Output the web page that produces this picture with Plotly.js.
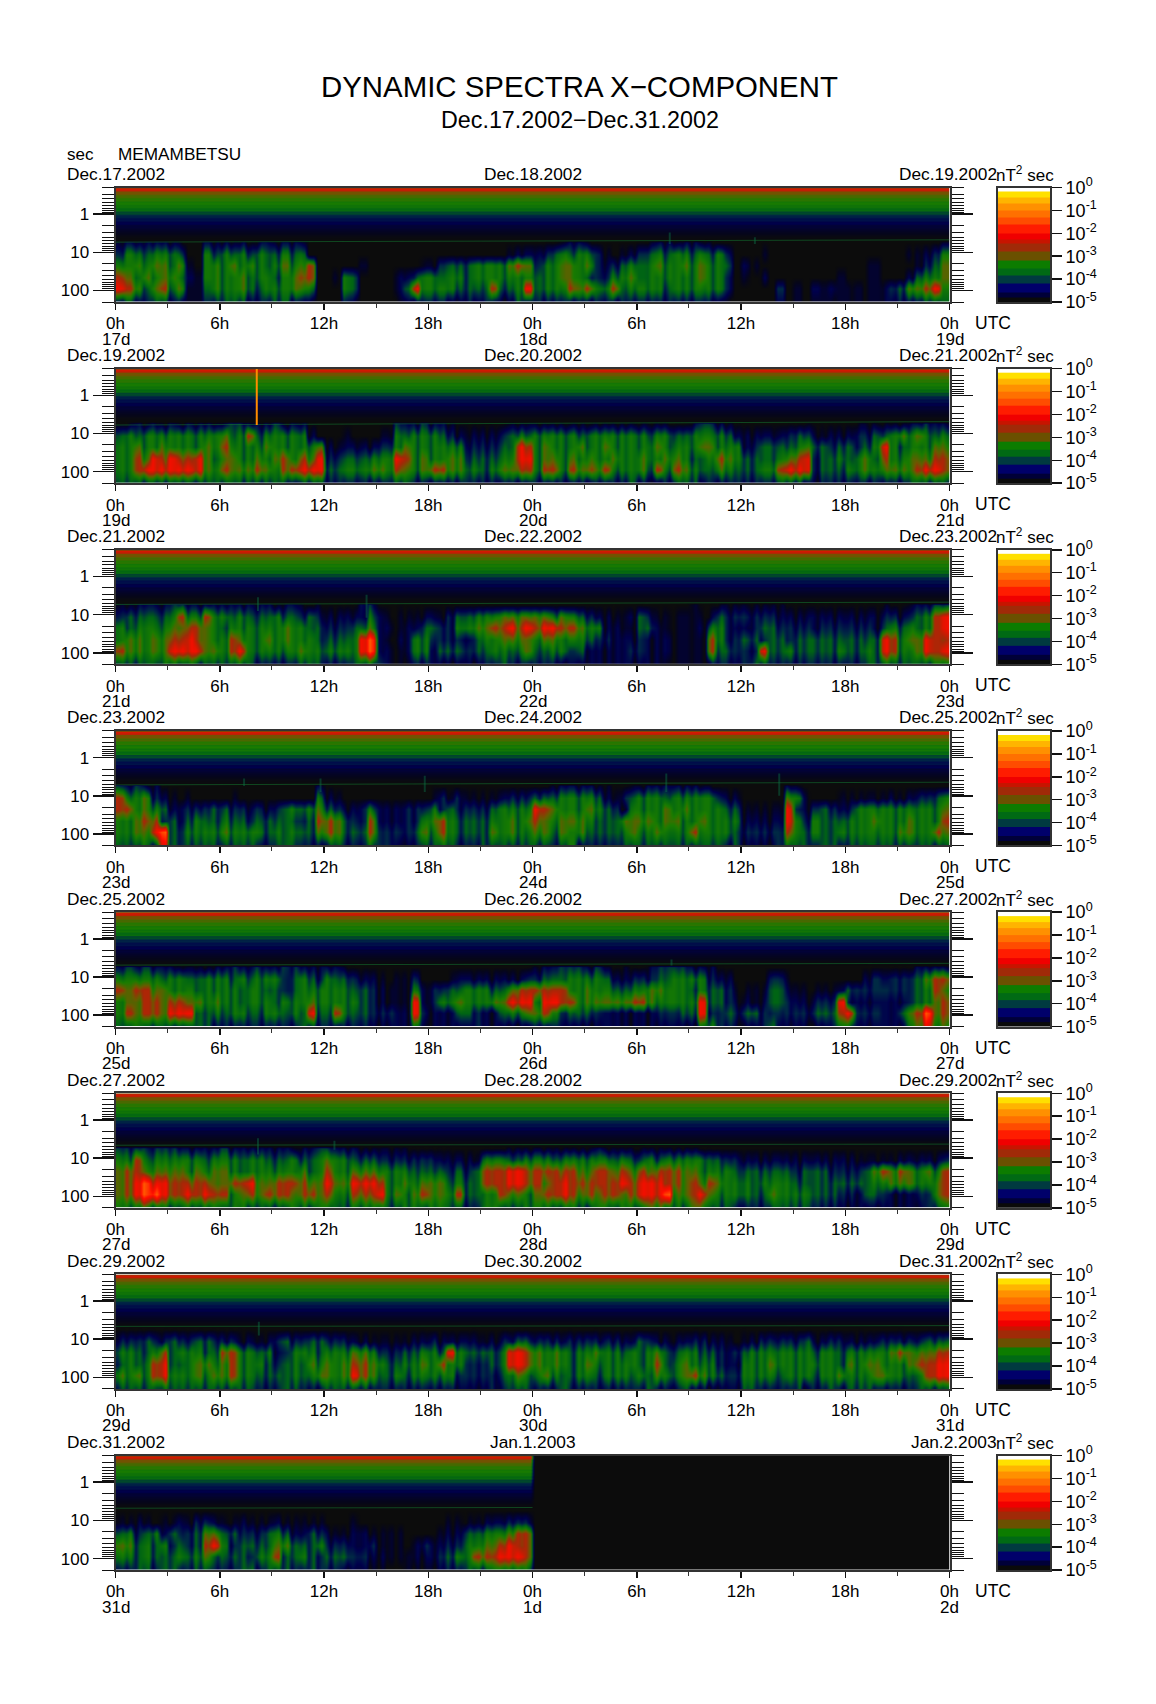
<!DOCTYPE html>
<html><head><meta charset="utf-8">
<script src="https://cdn.plot.ly/plotly-3.0.1.min.js"></script>
<style>html,body{margin:0;padding:0;background:#fff}</style></head>
<body><div id="chart" style="width:1156px;height:1704px"></div>
<script>
// ---------- values ----------
const startDates = ["Dec.17.2002","Dec.19.2002","Dec.21.2002","Dec.23.2002","Dec.25.2002","Dec.27.2002","Dec.29.2002","Dec.31.2002"];
const midDates   = ["Dec.18.2002","Dec.20.2002","Dec.22.2002","Dec.24.2002","Dec.26.2002","Dec.28.2002","Dec.30.2002","Jan.1.2003"];
const endDates   = ["Dec.19.2002","Dec.21.2002","Dec.23.2002","Dec.25.2002","Dec.27.2002","Dec.29.2002","Dec.31.2002","Jan.2.2003"];
const dayLabels  = [["17d","18d","19d"],["19d","20d","21d"],["21d","22d","23d"],["23d","24d","25d"],["25d","26d","27d"],["27d","28d","29d"],["29d","30d","31d"],["31d","1d","2d"]];
const hourTicks  = [0,6,12,18,24,30,36,42,48];
const hourLabels = ["0h","6h","12h","18h","0h","6h","12h","18h","0h"];
const hourMinor  = [3,9,15,21,27,33,39,45];
const periodTicks = [1,10,100];
const periodLabels = ["1","10","100"];
const periodMinor = [0.2,0.3,0.4,0.5,0.6,0.7,0.8,0.9,2,3,4,5,6,7,8,9,20,30,40,50,60,70,80,90,200];

// quiet upper part of every panel: period (s) and log10 power
const bgPeriod = [0.2,0.215,0.234,0.26,0.287,0.318,0.352,0.39,0.43,0.476,0.526,0.582,0.644,0.712,0.787,0.87,0.964,1.07,1.18,1.31,1.44,1.6,1.77,1.96,2.16,2.65,3.24,3.96,4.85];
const bgPower  = [-2.85,-2.35,-2.55,-2.95,-2.95,-3.2,-3.15,-3.35,-3.3,-3.5,-3.4,-3.6,-3.5,-3.75,-3.65,-4.0,-3.95,-4.25,-4.2,-4.4,-4.35,-4.55,-4.5,-4.7,-4.65,-4.8,-4.88,-4.95,-5];

// activity rows: period (s) of each string row, one digit per 30 minutes, digit = colour level
const rowPeriod = [5.6,11.2,22.4,44.7,89,178];
const levelPower = [-5,-4.72,-4.45,-4.15,-3.8,-3.5,-3.1,-2.62,-2.12,-1.4];
const topRowDrop = 0.25;
// dark streak strength per 15 minutes in each panel, digit x streakStep is removed from the power
const streakStep = 0.17;

const panel1 = [
"23333332 00333232 33233300 00000000 00000000 00000000 01123321 00001233 23322100 00100000 00000000 00000012",
"35545554 10545454 54454500 00000000 00000000 00000122 23454553 10123454 55454530 00100000 00000000 00011235",
"55656656 21565656 54565670 00001000 00011344 45555676 35566563 23454565 56565540 21000000 00000011 00001346",
"76565665 32565565 55456770 01540000 22455455 45555555 45566543 35564555 55565530 10200000 00010011 00024556",
"87646756 22465565 45556650 00540000 24855554 44474458 45557675 57455554 55555530 00003010 21211111 23466785",
"34334433 22344443 33443320 00320000 12333322 32332243 33333333 33333333 33333210 00002010 11111111 22333444"];
const panel2 = [
"12323232 33323443 33423310 00000000 43343321 11111222 22222222 22222222 11344321 00000112 11111222 22233433",
"45455555 55556457 45555520 00100011 54555432 12223454 55555455 55555455 44555542 22222344 21222334 45656545",
"55655655 55657555 56555556 21222233 56555555 23334487 56555655 65555565 55566555 23444456 44344345 85455566",
"55768787 78646655 65675768 33444555 87565566 34445588 56656565 56556556 65445765 44445678 34454564 75566677",
"55788888 88657666 76577888 44555665 76567766 45456677 57757676 75556475 76544654 44557888 34445565 66667887",
"44444444 44444444 44443444 33333333 44333333 33333333 33333333 33343223 44423333 33334443 23333333 33344444"];
const panel3 = [
"22333344 33333333 33233212 11113410 10000000 00000000 00000000 00001000 00211222 22222111 11111111 21123344",
"34444457 55755454 44544343 22222521 11122134 45556666 66565432 21124311 11112433 33332222 22222222 33234578",
"54555566 77654555 55565544 33344622 12244335 56677878 78877655 22114421 11125532 23443333 23333332 45454578",
"56656677 87655765 56565554 44458921 22553333 24556666 56655543 32223222 11117533 44344344 44444444 87566877",
"76656688 88665785 55555655 55558922 12552444 34455456 44553422 22233222 11117443 33844544 44454454 87556878",
"44444554 54444454 33333444 33344532 11332222 22334333 33322222 22222221 11113332 34433333 33333344 54444455"];
const panel4 = [
"43433100 00000000 00000003 10000000 00001000 00000000 00233332 21122333 33322110 00000320 00000000 00000000",
"75563210 10000100 00000005 21000000 00001313 11112333 44455554 21345554 55555322 00000652 00011111 12123345",
"77565422 33344332 32345456 43223522 23335343 33345555 87655565 43155556 56555544 11111832 34323555 55555556",
"55677342 45445443 44444347 76433722 23356754 44455656 76566654 44666656 65565555 22222853 54445556 55565557",
"55668943 55556555 54545446 76444733 33465754 44465655 66465644 44565565 55755554 33333754 54455555 55665576",
"44454843 44444444 33444333 44333533 22344543 33444444 44345333 33444444 44444434 22223544 34434444 44444444"];
const panel5 = [
"34343332 22233433 43344333 33211000 00000000 00000001 23344434 21211344 44333100 00000000 00000001 11113333",
"55555455 44555454 55534543 54432210 11300012 22222223 34445555 42233344 55553220 00033100 00000023 23334677",
"76776655 54555545 54434555 55544321 11523344 55544677 77775565 54455665 55454431 11144211 11124333 33334576",
"56677677 66565545 55455565 55554321 11823556 55566888 58877566 66677655 55584432 21244322 33383222 22234567",
"57677688 84454554 45545484 47544333 22832224 43224556 67534443 22222233 34483343 44333333 44478333 22467967",
"44544444 44433333 33333443 33333222 22522222 23222222 33322222 22222222 22255332 22342222 22355222 22256856"];
const panel6 = [
"44444443 33334333 33332334 43332222 22111110 00111222 22222223 22222222 22211000 00000000 00000000 00000000",
"55755555 55455545 54445445 65544433 33333222 21555445 55455555 54544545 55554433 22222222 22222111 11222223",
"67766666 56566545 55555645 75566655 55444434 34777887 77777667 76767677 76655554 44444434 44333346 76765657",
"67898877 77766778 66777766 86688875 56566645 44777887 76787777 77878887 76767655 54555544 44444445 56665567",
"67899877 87877567 67776776 75577785 65676657 44557665 67787676 77678889 66786555 54465555 44433244 32223367",
"55565544 54554554 44445545 54455554 45545544 33554445 55455445 54555665 54664443 33344444 33322222 22222345"];
const panel7 = [
"11111111 11011111 00011001 11000000 00010100 01001011 00101001 00010010 00100000 10010101 00100100 00100110",
"33343343 34433312 12343344 33322111 11223222 22123344 33323333 33224322 22332210 12333334 22332222 33333444",
"55445745 55447755 45235554 55566533 34455485 44445887 65654556 55454564 45544323 45555555 45545555 56766677",
"45457844 56656755 54345465 65677654 45565755 33345887 65654565 55554574 56555322 55565555 55546566 55567788",
"65657855 56566755 44445456 65687644 54555553 33334565 56544554 55545465 56765433 55554555 45565556 65545788",
"44444544 44444444 33344333 44444333 33333332 22233444 33343333 33333433 34332222 44333342 33434443 33334444"];
const panel8 = [
"00000000 00000000 00000000 00000000 00000000 00000000",
"11210112 13321121 11211111 00010000 00000011 11222333",
"45345243 34664433 34542243 21122111 10000122 44555677",
"66454534 34785344 44664445 33322311 10232233 55667877",
"55454445 45644443 55744543 44433221 11222345 57778887",
"33443443 34433344 34443343 33222110 01111233 44455555"];
const panelRows = [panel1,panel2,panel3,panel4,panel5,panel6,panel7,panel8];

const streak1 = "01002120 20103102 22220031 30102031 30010300 30120200 01020102 00100200 20103010 02001020 30102001 03010200 10302010 02010301 20030102 00201030 10203001 03010203 01203010 00000000 00000100 01002000 20010302 01020100";
const streak2 = "10201030 02030102 01302010 20010302 03020103 01203010 30201002 10302001 02010301 30102030 01020302 20103010 03010203 10203102 01030201 30120103 20103010 01302010 20301002 10203021 03010203 01200301 20103020 01030102";
const streak3 = "10203010 01302010 20030102 02010301 30102030 01020103 20301020 01030102 30201030 01020301 10302010 20103001 02010302 00102010 30201003 01030201 20001003 30200301 01302010 20103020 02010301 10302003 20103010 01020010";
const streak4 = "01020102 30102010 03020103 20301020 01302010 02010302 30100301 20030102 01203010 30201003 01020301 10203020 03010201 00301020 20103010 03010201 10302010 02010302 30102030 01020103 00102010 30201002 01030201 20103010";
const streak5 = "01000100 20010201 00102030 20301020 03010201 30102030 02010301 20103020 01030102 30102010 00201030 10203010 02010001 01020301 00102030 10302010 01020301 30102003 20103010 01020103 30102010 03010200 00102010 01020102";
const streak6 = "01030102 30102010 03010201 00301020 20103010 01302010 02010301 30201003 01030201 02010200 30102010 01020103 00201030 10203010 02010103 20103010 30201003 01030102 20103020 01020301 10203010 30201002 01030201 20103010";
const streak7 = "30201030 01302010 20103002 03010301 10302010 30102030 02010301 30201003 01030201 20301020 01020103 30120103 20103010 03020103 10302010 02010302 30102030 30201002 01030201 20103020 03010203 10302010 02010301 20103010";
const streak8 = "10203010 30102001 02030102 01302010 30201030 20103020 03010201 10203010 30102030 02010301 20103010 01020103";
const panelStreaks = [streak1,streak2,streak3,streak4,streak5,streak6,streak7,streak8];
const dataEndHour = [48,48,48,48,48,48,48,24];

// the thin line near 5 s: period at the start and end of each panel
const lineStartPeriod = [5.4,6.0,5.4,5.2,4.9,4.6,4.6,4.8];
const lineEndPeriod   = [4.7,4.9,4.7,4.4,4.4,4.3,4.4,4.6];

// short vertical bursts: panel index, hour, top period, bottom period
const burstPanel  = [0,0,2,2,3,3,3,3,3,4,5,5,6];
const burstHour   = [31.9,36.8,8.2,14.45,7.4,11.8,17.8,31.7,38.2,32,8.2,12.6,8.25];
const burstTop    = [3,4,3.5,3,3.5,3.5,3,2.6,2.6,3.5,3,3.5,3.5];
const burstBottom = [6,6,8,12,5.5,8,8,8,10,5,8,6,8];
const spikeHour = [8.13];
const spikeTop = [0.2];
const spikeBottom = [6];

// colour key
const barEdges  = [-5,-4.8,-4.6,-4.2,-3.85,-3.55,-3.2,-2.8,-2.45,-2.25,-2,-1.6,-1.3,-1,-0.72,-0.43,-0.19,0];
const barColors = ["#0a0a0a","#000038","#00006a","#003a40","#006a14","#0c7c00","#6a5000","#a02a08","#c81400","#f00000","#ff1c00","#ff4c00","#ff7000","#ff9000","#ffb400","#ffe000","#ffffff"];
const powerTicks = [-5,-4,-3,-2,-1,0];
const powerLabels = ["10<sup>-5</sup>","10<sup>-4</sup>","10<sup>-3</sup>","10<sup>-2</sup>","10<sup>-1</sup>","10<sup>0</sup>"];
const powerStops = [[-5,"#0c0c0c"],[-4.85,"#05051e"],[-4.5,"#00004c"],[-4.15,"#002a44"],[-3.8,"#006414"],[-3.4,"#1a7c00"],[-3.0,"#6a5a00"],[-2.7,"#a02a08"],[-2.3,"#e01400"],[-2,"#ff0c00"],[-1.5,"#ff4c00"],[-1,"#ff9000"],[-0.4,"#ffc800"],[-0.2,"#ffe000"],[0,"#ffffff"]];

// ---------- layout geometry ----------
const W = 1156, H = 1704, FONT = "Liberation Sans, Arial, sans-serif";
const plotL = 115.5, plotR = 949.5, barL = 997.5, barR = 1050, firstTop = 187.5, plotH = 114.5, stepY = 181.15;
const fx = px => px / W, fy = px => 1 - px / H;

const colorscale = powerStops.map(s => [(s[0] + 5) / 5, s[1]]);
const barScale = [];
barColors.forEach((c, i) => { barScale.push([i / barColors.length, c]); barScale.push([(i + 1) / barColors.length, c]); });

const traces = [], layout = {
  width: W, height: H, margin: {l:0,r:0,t:0,b:0}, paper_bgcolor:"#fff", plot_bgcolor:"#fff",
  showlegend:false, font:{family:FONT,size:17,color:"#000"}, annotations:[],
  hovermode:false
};
const note = (text,x,y,anchor,size) => layout.annotations.push({text,x:fx(x),y:fy(y),xref:"paper",yref:"paper",xanchor:anchor,yanchor:"middle",showarrow:false,font:{family:FONT,size:size||17,color:"#000"}});

note("DYNAMIC SPECTRA X\u2212COMPONENT",579,86,"center",29.4);
note("Dec.17.2002\u2212Dec.31.2002",580,120,"center",23.3);
note("sec",64.5,154,"left",17);
note("MEMAMBETSU",116,154,"left",17.2);

const axisLine = "#333";
panelRows.forEach((rows, p) => {
  const top = firstTop + p * stepY, bottom = top + plotH;
  const n = p + 1, bn = p + 9;
  const parsed = rows.map(r => r.replace(/ /g,""));
  const streak = panelStreaks[p].replace(/ /g,"");
  const hours = []; for (let c = 0; c < 192; c++) hours.push((c + 0.5) / 4);
  const y = bgPeriod.concat(rowPeriod, [200]);
  const z = [];
  bgPower.forEach(v => z.push(hours.map(h => h < dataEndHour[p] ? v : -5)));
  parsed.forEach((s, r) => z.push(hours.map((h,c) => {
    const i = Math.floor(c / 2);
    if (i >= s.length) return -5;
    const drop = (+(streak[c] || 0)) * streakStep + (r === 0 ? topRowDrop : 0);
    return Math.max(-5, levelPower[+s[i]] - drop);
  })));
  z.push(z[z.length-1].slice());
  traces.push({type:"heatmap",x:hours,y,z,zmin:-5,zmax:0,colorscale,showscale:false,zsmooth:"best",xaxis:"x"+n,yaxis:"y"+n,hoverinfo:"skip"});

  // line near 5 s
  traces.push({type:"scatter",mode:"lines",x:[0,dataEndHour[p]],y:[lineStartPeriod[p],lineEndPeriod[p]],line:{color:"rgba(20,120,50,0.55)",width:1},xaxis:"x"+n,yaxis:"y"+n,hoverinfo:"skip"});
  burstPanel.forEach((bp,i) => { if (bp === p) traces.push({type:"scatter",mode:"lines",x:[burstHour[i],burstHour[i]],y:[burstTop[i],burstBottom[i]],line:{color:"rgba(10,110,70,0.45)",width:2},xaxis:"x"+n,yaxis:"y"+n,hoverinfo:"skip"}); });
  if (p === 1) traces.push({type:"scatter",mode:"lines",x:[spikeHour[0],spikeHour[0]],y:[spikeTop[0],spikeBottom[0]],line:{color:"#ff8c00",width:2},xaxis:"x"+n,yaxis:"y"+n,hoverinfo:"skip"});

  layout["xaxis"+n] = {domain:[fx(plotL),fx(plotR)],anchor:"y"+n,range:[0,48],tickmode:"array",tickvals:hourTicks,ticktext:hourLabels,ticks:"outside",ticklen:6,tickwidth:1.5,tickcolor:"#111",showgrid:false,zeroline:false,showline:true,linecolor:axisLine,linewidth:2,mirror:true,tickfont:{family:FONT,size:17},tickangle:0,ticklabelstandoff:-1,
    minor:{tickmode:"array",tickvals:hourMinor,ticks:"outside",ticklen:4,tickwidth:1,tickcolor:"#333",showgrid:false}};
  layout["yaxis"+n] = {domain:[fy(bottom),fy(top)],anchor:"x"+n,type:"log",range:[Math.log10(200),Math.log10(0.2)],tickmode:"array",tickvals:periodTicks,ticktext:periodLabels,ticks:"outside",ticklen:21,tickwidth:1.5,tickcolor:"#111",showgrid:false,zeroline:false,showline:true,linecolor:axisLine,linewidth:2,mirror:"ticks",tickfont:{family:FONT,size:17},
    minor:{tickmode:"array",tickvals:periodMinor,ticks:"outside",ticklen:12,tickwidth:1,tickcolor:"#111",showgrid:false}};

  // colour key
  traces.push({type:"heatmap",x:[0,1],y:barEdges,z:barColors.map((c,i)=>[i]),zmin:-0.5,zmax:barColors.length-0.5,colorscale:barScale,showscale:false,xaxis:"x"+bn,yaxis:"y"+bn,hoverinfo:"skip"});
  layout["xaxis"+bn] = {domain:[fx(barL),fx(barR)],anchor:"y"+bn,range:[0,1],showticklabels:false,ticks:"",showgrid:false,zeroline:false,showline:true,linecolor:axisLine,linewidth:2,mirror:true};
  layout["yaxis"+bn] = {domain:[fy(bottom),fy(top)],anchor:"x"+bn,side:"right",range:[-5,0],tickmode:"array",tickvals:powerTicks,ticktext:powerLabels,ticks:"outside",ticklen:10,tickwidth:1.5,tickcolor:"#111",showgrid:false,zeroline:false,showline:true,linecolor:axisLine,linewidth:2,mirror:true,tickfont:{family:FONT,size:18}};

  // texts
  note(startDates[p],64.5,top-13.5,"left",17.3);
  note(midDates[p],plotL+(plotR-plotL)/2,top-13.5,"center",17.3);
  note(endDates[p],999,top-13.5,"right",17.3);
  note("nT<sup>2</sup> sec",994,top-13.5,"left",17);
  note("UTC",973,bottom+21,"left",17.5);
  dayLabels[p].forEach((d,i)=> note(d,plotL+(plotR-plotL)*i/2,bottom+37,"center",17));
});

Plotly.newPlot("chart",traces,layout,{displayModeBar:false,staticPlot:true});
</script></body></html>
